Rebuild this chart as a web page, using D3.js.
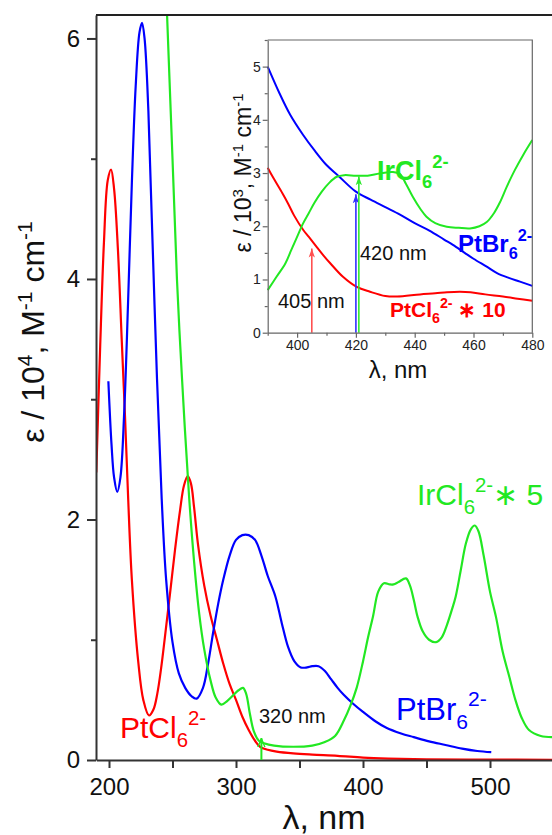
<!DOCTYPE html>
<html>
<head>
<meta charset="utf-8">
<script src="https://cdn.jsdelivr.net/npm/d3@7"></script>
<style>
  body { margin: 0; background: #fff; }
  svg { display: block; font-family: "Liberation Sans", Arial, sans-serif; }
</style>
</head>
<body>
<svg width="552" height="835"></svg>
<script>
// main spectra, eps / 10^4 (IrCl6 already scaled *5)
var ptclWl  = [190, 193, 196, 199, 201.6, 204, 207, 210, 212.6, 215, 218, 223, 227, 231.5, 235, 238, 241, 244, 248, 252, 256, 259, 262, 264.5, 267, 270, 275, 280, 285, 290, 295, 300, 305, 310, 315, 319, 325, 332, 345, 360, 380, 400, 420, 450, 500, 550];
var ptclEps = [2.39, 3.42, 4.3, 4.82, 4.91, 4.75, 4.25, 3.5, 2.86, 2.2, 1.5, 0.82, 0.5, 0.37, 0.42, 0.55, 0.76, 1.02, 1.38, 1.75, 2.08, 2.28, 2.36, 2.3, 2.1, 1.8, 1.45, 1.2, 1.0, 0.8, 0.63, 0.5, 0.36, 0.25, 0.16, 0.11, 0.085, 0.07, 0.055, 0.045, 0.035, 0.02, 0.012, 0.006, 0.003, 0.002];

var ptbrWl  = [199.5, 202, 204, 206.5, 209, 212, 215, 218, 221, 224, 226, 228, 231, 234, 237.8, 241.5, 245, 250, 255, 260, 265, 269, 274, 278, 282, 286, 290, 295, 300, 305, 310, 315, 320, 325, 331, 336, 341, 346, 351, 356, 360, 365, 370, 375, 380, 385, 392, 400, 410, 418, 430, 440, 452, 465, 478, 490, 501];
var ptbrEps = [3.15, 2.62, 2.35, 2.23, 2.35, 2.9, 3.8, 4.8, 5.6, 6.05, 6.13, 6.0, 5.4, 4.4, 3.17, 2.17, 1.5, 0.98, 0.72, 0.6, 0.53, 0.51, 0.6, 0.8, 1.06, 1.3, 1.5, 1.7, 1.83, 1.87, 1.87, 1.83, 1.7, 1.53, 1.36, 1.14, 0.94, 0.82, 0.77, 0.77, 0.78, 0.78, 0.74, 0.67, 0.6, 0.54, 0.47, 0.4, 0.32, 0.27, 0.22, 0.19, 0.155, 0.125, 0.095, 0.075, 0.065];

var irclWl  = [240, 245.7, 250, 253.5, 257.5, 263, 267, 271, 275, 280, 284, 288.5, 293, 298, 302, 305.5, 308, 311, 314, 318, 322, 330, 345, 360, 370, 378, 385, 390, 395, 400, 404, 408, 412, 416.5, 421, 424, 428, 433.8, 437, 440, 443, 447, 452, 457.5, 462, 466, 470, 473, 477, 481, 485, 488, 491, 495, 500, 504.7, 510, 515, 520, 525, 530.7, 540, 550];
var irclEps = [7.8, 6.2, 5.0, 4.0, 3.17, 2.2, 1.65, 1.22, 0.92, 0.66, 0.52, 0.46, 0.49, 0.54, 0.58, 0.6, 0.55, 0.38, 0.24, 0.16, 0.14, 0.12, 0.11, 0.12, 0.15, 0.2, 0.33, 0.45, 0.6, 0.82, 1.02, 1.2, 1.4, 1.47, 1.46, 1.46, 1.48, 1.51, 1.45, 1.33, 1.19, 1.07, 1.0, 0.98, 1.02, 1.12, 1.25, 1.36, 1.58, 1.8, 1.92, 1.95, 1.9, 1.7, 1.4, 1.19, 0.9, 0.7, 0.5, 0.35, 0.25, 0.2, 0.19];

// inset spectra, eps / 10^3 (PtCl6 scaled *10)
var inPtbrWl  = [390, 394, 397.6, 402, 406, 410, 414, 420, 425, 430, 435, 440, 445, 450, 453, 457, 460, 464.5, 468, 472, 475.8, 480];
var inPtbrEps = [5.0, 4.5, 4.1, 3.72, 3.42, 3.15, 2.95, 2.65, 2.5, 2.36, 2.22, 2.06, 1.92, 1.75, 1.65, 1.5, 1.39, 1.24, 1.12, 1.03, 0.96, 0.88];

var inPtclWl  = [390, 392, 395, 397, 399, 402.1, 404, 406.7, 409, 411.2, 415.6, 420.3, 424.8, 430, 434, 441.8, 447, 451, 455.4, 459, 464, 470, 475, 480];
var inPtclEps = [3.1, 2.9, 2.62, 2.42, 2.2, 1.93, 1.8, 1.61, 1.45, 1.31, 1.05, 0.86, 0.77, 0.69, 0.68, 0.72, 0.74, 0.76, 0.77, 0.76, 0.72, 0.68, 0.64, 0.6];

var inIrclWl  = [390, 393, 396, 398, 400, 402, 404, 406, 408.4, 411, 413.5, 416, 420, 424, 428, 432.6, 435, 437, 439.4, 442, 444, 447, 450.9, 455, 458.8, 462, 464.5, 467, 469, 471.3, 474, 477, 480];
var inIrclEps = [0.8, 1.05, 1.3, 1.55, 1.8, 2.05, 2.25, 2.45, 2.65, 2.82, 2.93, 2.96, 2.95, 2.95, 2.99, 3.02, 2.98, 2.8, 2.55, 2.32, 2.18, 2.06, 1.99, 1.97, 1.96, 2.0, 2.08, 2.25, 2.45, 2.74, 3.05, 3.35, 3.62];

// excitation wavelengths marked by arrows
var inArrowWl  = [405, 420, 421];
var inArrowTop = [1.58, 2.6, 2.94];
var mainArrowWl  = [320];
var mainArrowTop = [0.18];

var red = "#ff0000", blue = "#0000ff", green = "#22e822";

var svg = d3.select("svg");

function zip(a, b) { return a.map(function(d, i) { return [d, b[i]]; }); }

// ---------- main plot ----------
var x = d3.scaleLinear().domain([190, 550]).range([96.3, 553.5]);
var y = d3.scaleLinear().domain([0, 6.195]).range([760, 15]);

svg.append("clipPath").attr("id", "mainClip")
  .append("rect").attr("x", 96).attr("y", 15).attr("width", 460).attr("height", 745);

var line = d3.line()
    .x(function(d) { return x(d[0]); })
    .y(function(d) { return y(d[1]); })
    .curve(d3.curveCatmullRom.alpha(0.5));

var curves = svg.append("g").attr("clip-path", "url(#mainClip)");
[[ptclWl, ptclEps, red], [ptbrWl, ptbrEps, blue], [irclWl, irclEps, green]].forEach(function(s) {
  curves.append("path")
      .datum(zip(s[0], s[1]))
      .attr("d", line)
      .attr("fill", "none")
      .attr("stroke", s[2])
      .attr("stroke-width", 2.2);
});

// axes
svg.append("g").attr("transform", "translate(96,0)")
    .call(d3.axisLeft(y).tickValues([0, 2, 4, 6]).tickFormat(d3.format("d")).tickSize(9).tickPadding(7).tickSizeOuter(0));
svg.append("g").attr("transform", "translate(96,0)")
    .call(d3.axisLeft(y).tickValues([1, 3, 5]).tickSize(5).tickFormat(""))
    .select(".domain").remove();
svg.append("g").attr("transform", "translate(0,760)")
    .call(d3.axisBottom(x).tickValues([200, 300, 400, 500]).tickFormat(d3.format("d")).tickSize(8).tickPadding(10).tickSizeOuter(0));
svg.append("g").attr("transform", "translate(0,760)")
    .call(d3.axisBottom(x).tickValues([250, 350, 450]).tickSize(8).tickFormat(""))
    .select(".domain").remove();
svg.append("line").attr("x1", 96).attr("x2", 552).attr("y1", 15).attr("y2", 15)
    .attr("stroke", "#222").attr("stroke-width", 2);

svg.selectAll(".domain, .tick line").attr("stroke", "#333").attr("stroke-width", 2);
svg.selectAll(".tick text").attr("font-size", 24).attr("fill", "#111")
    .attr("font-family", "Liberation Sans, Arial, sans-serif");

svg.append("text")
    .attr("transform", "translate(44,332) rotate(-90)")
    .attr("text-anchor", "middle").attr("font-size", 32).attr("fill", "#111")
    .html('ε / 10<tspan dy="-12" font-size="21">4</tspan><tspan dy="12">, M</tspan><tspan dy="-12" font-size="21">-1</tspan><tspan dy="12"> cm</tspan><tspan dy="-12" font-size="21">-1</tspan>');
svg.append("text")
    .attr("x", 324).attr("y", 829).attr("text-anchor", "middle")
    .attr("font-size", 34).attr("fill", "#111").text("λ, nm");

// labels in main plot
function formula(g, px, py, size, color, weight, base, tail) {
  var t = g.append("text").attr("x", px).attr("y", py)
      .attr("font-size", size).attr("fill", color).attr("font-weight", weight);
  t.append("tspan").text(base);
  t.append("tspan").attr("dy", size * 0.3).attr("font-size", size * 0.68).text("6");
  t.append("tspan").attr("dy", -size * 0.75).attr("font-size", size * 0.68).text("2-");
  if (tail) t.append("tspan").attr("dy", size * 0.45).text(tail);
  return t;
}
formula(svg, 120, 738, 30, red, "normal", "PtCl");
formula(svg, 396, 720, 31, blue, "normal", "PtBr");
formula(svg, 417, 505, 30, green, "normal", "IrCl", "∗ 5");
svg.append("text").attr("x", 259).attr("y", 723).attr("font-size", 20).attr("fill", "#111").text("320 nm");

svg.append("defs").selectAll("marker")
  .data([["open", green, "M0,-4L10,0L0,4", "none"], ["r", "#ff5050", "M0,-3.5L10,0L0,3.5L2.5,0Z", "#ff5050"],
         ["b", "#3030ff", "M0,-3.5L10,0L0,3.5L2.5,0Z", "#3030ff"], ["g", "#30ea30", "M0,-3.5L10,0L0,3.5L2.5,0Z", "#30ea30"]])
  .enter().append("marker")
    .attr("id", function(d) { return "arr-" + d[0]; })
    .attr("viewBox", "0 -5 10 10").attr("refX", 10).attr("refY", 0)
    .attr("markerUnits", "userSpaceOnUse").attr("markerWidth", 9).attr("markerHeight", 9)
    .attr("orient", "auto")
  .append("path").attr("d", function(d) { return d[2]; })
    .attr("fill", function(d) { return d[3]; })
    .attr("stroke", function(d) { return d[3] === "none" ? d[1] : "none"; })
    .attr("stroke-width", 1.5);

svg.selectAll(".mainArrow").data(mainArrowWl).enter().append("line")
    .attr("x1", function(d) { return x(d); }).attr("x2", function(d) { return x(d); })
    .attr("y1", y(0)).attr("y2", function(d, i) { return y(mainArrowTop[i]); })
    .attr("stroke", green).attr("stroke-width", 2).attr("marker-end", "url(#arr-open)");

// ---------- inset ----------
var ix = d3.scaleLinear().domain([390, 480]).range([267.7, 532.3]);
var iy = d3.scaleLinear().domain([0, 5.5]).range([332.7, 40]);
var inset = svg.append("g");

var iline = d3.line()
    .x(function(d) { return ix(d[0]); })
    .y(function(d) { return iy(d[1]); })
    .curve(d3.curveCatmullRom.alpha(0.5));

[[inPtbrWl, inPtbrEps, blue], [inPtclWl, inPtclEps, red], [inIrclWl, inIrclEps, green]].forEach(function(s) {
  inset.append("path")
      .datum(zip(s[0], s[1]))
      .attr("d", iline)
      .attr("fill", "none")
      .attr("stroke", s[2])
      .attr("stroke-width", 2);
});

var arrowIds = ["r", "b", "g"];
var arrowCols = ["#ff5050", "#3030ff", "#30ea30"];
inset.selectAll(".inArrow").data(inArrowWl).enter().append("line")
    .attr("x1", function(d) { return ix(d); }).attr("x2", function(d) { return ix(d); })
    .attr("y1", iy(0)).attr("y2", function(d, i) { return iy(inArrowTop[i]); })
    .attr("stroke", function(d, i) { return arrowCols[i]; })
    .attr("stroke-width", 1.6)
    .attr("marker-end", function(d, i) { return "url(#arr-" + arrowIds[i] + ")"; });

var ia = inset.append("g").attr("class", "inaxis");
ia.append("g").attr("transform", "translate(267.7,0)")
    .call(d3.axisLeft(iy).tickValues([0, 1, 2, 3, 4, 5]).tickFormat(d3.format("d")).tickSize(5).tickPadding(2).tickSizeOuter(0));
ia.append("g").attr("transform", "translate(267.7,0)")
    .call(d3.axisLeft(iy).tickValues([0.5, 1.5, 2.5, 3.5, 4.5, 5.5]).tickSize(3).tickFormat(""))
    .select(".domain").remove();
ia.append("g").attr("transform", "translate(0,332.7)")
    .call(d3.axisBottom(ix).tickValues([400, 420, 440, 460, 480]).tickFormat(d3.format("d")).tickSize(5).tickPadding(2).tickSizeOuter(0));
ia.append("g").attr("transform", "translate(0,332.7)")
    .call(d3.axisBottom(ix).tickValues([390, 410, 430, 450, 470]).tickSize(3).tickFormat(""))
    .select(".domain").remove();
ia.append("path").attr("d", "M267.7,40H532.3V332.7").attr("fill", "none");
ia.selectAll("path, line").attr("stroke", "#666").attr("stroke-width", 1.2);
ia.selectAll("text").attr("font-size", 14).attr("fill", "#222")
    .attr("font-family", "Liberation Sans, Arial, sans-serif");

inset.append("text")
    .attr("transform", "translate(251,173) rotate(-90)")
    .attr("text-anchor", "middle").attr("font-size", 23).attr("fill", "#111")
    .html('ε / 10<tspan dy="-8" font-size="15">3</tspan><tspan dy="8">, M</tspan><tspan dy="-8" font-size="15">-1</tspan><tspan dy="8"> cm</tspan><tspan dy="-8" font-size="15">-1</tspan>');
inset.append("text").attr("x", 398).attr("y", 378).attr("text-anchor", "middle")
    .attr("font-size", 24).attr("fill", "#111").text("λ, nm");

formula(inset, 377, 180, 27, green, "bold", "IrCl");
formula(inset, 458, 252, 24, blue, "bold", "PtBr");
formula(inset, 390, 317, 21, red, "bold", "PtCl", " ∗ 10");
inset.append("text").attr("x", 360).attr("y", 260).attr("font-size", 20).attr("fill", "#111").text("420 nm");
inset.append("text").attr("x", 278).attr("y", 308).attr("font-size", 20).attr("fill", "#111").text("405 nm");
</script>
</body>
</html>
